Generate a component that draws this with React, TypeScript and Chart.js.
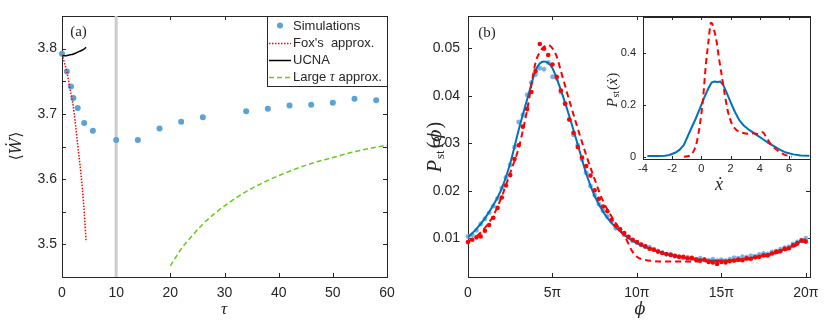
import React, { useEffect, useRef } from 'react';
import { Chart, registerables } from 'chart.js';
Chart.register(...registerables);

// ---------- Panel (a) data ----------
const SIM_TAU = [0, 0.9, 1.65, 2.1, 2.9, 4.1, 5.7, 10, 14, 18, 22, 26, 34, 38, 42, 46, 50, 54, 58];
const SIM_W = [3.792, 3.765, 3.742, 3.7245, 3.709, 3.686, 3.674, 3.66, 3.66, 3.6776, 3.6878, 3.695, 3.704, 3.708, 3.713, 3.714, 3.717, 3.723, 3.721];
const FOX_TAU = [0, 0.5, 1, 1.5, 2, 2.5, 3, 3.5, 4, 4.45];
const FOX_W = [3.791, 3.777, 3.76, 3.737, 3.716, 3.683, 3.645, 3.608, 3.561, 3.504];
const UCNA_TAU = [0, 1, 1.5, 2, 2.5, 3, 3.5, 4, 4.45];
const UCNA_W = [3.789, 3.7895, 3.7905, 3.7915, 3.793, 3.795, 3.7968, 3.799, 3.802];
const LARGE_TAU = [20, 22, 24, 26, 28, 30, 34, 38, 42, 46, 50, 54, 58, 60];
const LARGE_W = [3.467, 3.493, 3.513, 3.531, 3.546, 3.559, 3.581, 3.598, 3.612, 3.624, 3.633, 3.642, 3.649, 3.652];
const VLINE_TAU = 10;
const A_X_TICKS = [0, 10, 20, 30, 40, 50, 60];
const A_Y_TICKS = [3.45, 3.5, 3.55, 3.6, 3.65, 3.7, 3.75, 3.8, 3.85];
const A_X_RANGE = [0, 60];
const A_Y_RANGE = [3.45, 3.85];

// ---------- Panel (b) data (phi in units of pi) ----------
const B_CURVE_PHI = [0, 0.5, 1, 1.5, 2, 2.5, 3, 3.5, 4, 4.25, 4.5, 4.75, 5, 5.5, 6, 6.5, 7, 7.5, 8, 8.5, 9, 9.5, 10, 11, 12, 13, 14, 15, 16, 17, 18, 19, 20];
const B_CURVE_P = [0.0102, 0.012, 0.0142, 0.017, 0.0205, 0.0258, 0.0328, 0.0392, 0.0453, 0.0468, 0.0472, 0.0469, 0.0458, 0.0412, 0.0357, 0.0297, 0.0236, 0.0189, 0.0156, 0.0132, 0.0115, 0.0101, 0.009, 0.0075, 0.0064, 0.0058, 0.0054, 0.0053, 0.0055, 0.006, 0.0068, 0.008, 0.0099];
const B_DASH_PHI = [0, 0.5, 1, 1.5, 2, 2.5, 3, 3.5, 4, 4.25, 4.5, 4.75, 5, 5.25, 5.5, 6, 6.5, 7, 7.5, 8, 8.5, 9, 9.4, 9.7, 10, 10.4, 11, 12, 13, 14, 15, 16, 17, 18, 19, 20];
const B_DASH_P = [0.0093, 0.0104, 0.0122, 0.0148, 0.0188, 0.0238, 0.029, 0.037, 0.047, 0.0492, 0.0503, 0.0507, 0.05, 0.0483, 0.0452, 0.039, 0.0331, 0.0275, 0.0224, 0.0178, 0.0146, 0.0118, 0.0096, 0.0074, 0.0061, 0.0055, 0.0052, 0.0051, 0.0051, 0.0051, 0.0052, 0.0053, 0.0058, 0.0066, 0.0078, 0.0095];
const B_SAMPLE_PHI = [0, 0.25, 0.5, 0.75, 1, 1.25, 1.5, 1.75, 2, 2.25, 2.5, 2.75, 3, 3.25, 3.5, 3.75, 4, 4.25, 4.5, 4.75, 5, 5.25, 5.5, 5.75, 6, 6.25, 6.5, 6.75, 7, 7.25, 7.5, 7.75, 8, 8.25, 8.5, 8.75, 9, 9.25, 9.5, 9.75, 10, 10.25, 10.5, 10.75, 11, 11.25, 11.5, 11.75, 12, 12.25, 12.5, 12.75, 13, 13.25, 13.5, 13.75, 14, 14.25, 14.5, 14.75, 15, 15.25, 15.5, 15.75, 16, 16.25, 16.5, 16.75, 17, 17.25, 17.5, 17.75, 18, 18.25, 18.5, 18.75, 19, 19.25, 19.5, 19.75, 20];
const B_RED_DOTS = [0.0092, 0.0097, 0.0102, 0.0104, 0.0116, 0.0128, 0.0143, 0.0164, 0.0186, 0.0211, 0.0233, 0.0267, 0.0296, 0.0335, 0.0372, 0.0408, 0.0452, 0.0509, 0.0499, 0.0486, 0.0466, 0.044, 0.0411, 0.0383, 0.035, 0.0322, 0.0292, 0.027, 0.0252, 0.0232, 0.0201, 0.0183, 0.0167, 0.0157, 0.0139, 0.0127, 0.0119, 0.0111, 0.0103, 0.0097, 0.0092, 0.0087, 0.0083, 0.0078, 0.0076, 0.0072, 0.0069, 0.0067, 0.0065, 0.0063, 0.0061, 0.0061, 0.0058, 0.0059, 0.0055, 0.0053, 0.0055, 0.005, 0.0049, 0.0046, 0.005, 0.0049, 0.0052, 0.0053, 0.0055, 0.0054, 0.0058, 0.0057, 0.006, 0.0061, 0.0064, 0.0064, 0.0068, 0.0072, 0.0073, 0.0078, 0.0079, 0.0085, 0.009, 0.0096, 0.0093];
const B_BLUE_MARKS = [0.0104, 0.0107, 0.0117, 0.013, 0.0141, 0.0154, 0.0168, 0.0184, 0.0206, 0.0228, 0.0255, 0.0292, 0.0345, 0.036, 0.0402, 0.0428, 0.0445, 0.0458, 0.0456, 0.047, 0.044, 0.0437, 0.0408, 0.0384, 0.035, 0.0318, 0.0296, 0.0266, 0.0238, 0.021, 0.0191, 0.0172, 0.0158, 0.0146, 0.0136, 0.0121, 0.0119, 0.0107, 0.0102, 0.0095, 0.0091, 0.0086, 0.0082, 0.0081, 0.0077, 0.0073, 0.007, 0.0066, 0.0066, 0.0062, 0.0061, 0.0059, 0.006, 0.0057, 0.0056, 0.0058, 0.0055, 0.0054, 0.0056, 0.0053, 0.0055, 0.0053, 0.0056, 0.0059, 0.0058, 0.0061, 0.006, 0.0063, 0.0062, 0.0066, 0.0068, 0.0067, 0.0071, 0.0072, 0.0077, 0.008, 0.0082, 0.0088, 0.0092, 0.0095, 0.01];
const B_X_TICKS = [0, 5, 10, 15, 20];
const B_Y_TICKS = [0.01, 0.02, 0.03, 0.04, 0.05];
const B_X_RANGE = [0, 20.25];
const B_Y_RANGE = [0.00185, 0.0568];

// ---------- Inset data ----------
const IN_BLUE_X = [-3.7, -3, -2.5, -2.2, -1.8, -1.5, -1.2, -0.8, -0.4, -0.1, 0.2, 0.5, 0.7, 0.9, 1.1, 1.3, 1.5, 1.7, 2.0, 2.3, 2.6, 2.9, 3.3, 3.8, 4.2, 4.6, 5.0, 5.4, 5.8, 6.3, 6.8, 7.4];
const IN_BLUE_P = [0.003, 0.003, 0.004, 0.0065, 0.015, 0.026, 0.045, 0.096, 0.145, 0.186, 0.228, 0.265, 0.285, 0.289, 0.287, 0.289, 0.275, 0.25, 0.21, 0.172, 0.14, 0.12, 0.102, 0.083, 0.068, 0.052, 0.04, 0.026, 0.016, 0.009, 0.005, 0.004];
const IN_RED_X = [-1.2, -0.8, -0.5, -0.3, -0.1, 0.1, 0.3, 0.5, 0.65, 0.75, 0.9, 1.05, 1.2, 1.4, 1.6, 1.8, 2.1, 2.4, 2.8, 3.2, 3.6, 3.9, 4.2, 4.4, 4.7, 5.0, 5.3, 5.6, 5.9, 6.2];
const IN_RED_P = [0.0, 0.004, 0.025, 0.06, 0.125, 0.215, 0.35, 0.45, 0.515, 0.51, 0.48, 0.44, 0.38, 0.31, 0.24, 0.178, 0.125, 0.103, 0.092, 0.088, 0.09, 0.087, 0.094, 0.08, 0.052, 0.034, 0.02, 0.01, 0.004, 0.0];
const IN_X_TICKS = [-4, -2, 0, 2, 4, 6];
const IN_Y_TICKS = [0, 0.2, 0.4];
const IN_X_RANGE = [-4, 7.44];
const IN_Y_RANGE = [-0.0088, 0.537];

// ---------- styles ----------
const AXIS = '#262626';
const SANS = "'Liberation Sans', Arial, sans-serif";
const SERIF = "'Liberation Serif', 'DejaVu Serif', serif";
const DJV = "'DejaVu Serif', serif";
const SIM_BLUE = '#5aa2d8';
const RED = '#ff0000';
const GREEN = '#66cc1a';
const MAT_BLUE = '#0072bd';
const LIGHT_BLUE = '#74b4e4';

const pts = (xs: number[], ys: number[]) => xs.map((x, i) => ({ x, y: ys[i] }));

type Seg = { t: string; f: string; dy?: number; gap?: number };
type TextItem = { x: number; y: number; segs: Seg[]; rot?: number };

function drawSegs(ctx: CanvasRenderingContext2D, item: TextItem) {
  ctx.save();
  ctx.translate(item.x, item.y);
  if (item.rot) ctx.rotate(item.rot);
  ctx.textBaseline = 'middle';
  ctx.textAlign = 'left';
  const widths = item.segs.map((s) => {
    ctx.font = s.f;
    return ctx.measureText(s.t).width + (s.gap || 0);
  });
  const total = widths.reduce((a, b) => a + b, 0);
  let cx = -total / 2;
  item.segs.forEach((s, i) => {
    ctx.font = s.f;
    ctx.fillStyle = AXIS;
    ctx.fillText(s.t, cx, s.dy || 0);
    cx += widths[i];
  });
  ctx.restore();
}

function makeFrame(cfg: { fill?: boolean; tick: number; top: boolean; right: boolean; texts: TextItem[]; extra?: (c: any) => void }) {
  return {
    id: 'frame',
    beforeDraw(chart: any) {
      if (!cfg.fill) return;
      const a = chart.chartArea;
      const ctx = chart.ctx;
      ctx.save();
      ctx.fillStyle = '#ffffff';
      ctx.fillRect(a.left, a.top, a.right - a.left, a.bottom - a.top);
      ctx.restore();
    },
    beforeDatasetsDraw(chart: any) {
      const { ctx, chartArea: a } = chart;
      const xs = chart.scales.x;
      const ys = chart.scales.y;
      const L = cfg.tick;
      ctx.save();
      ctx.strokeStyle = AXIS;
      ctx.lineWidth = 1;
      ctx.strokeRect(Math.round(a.left) + 0.5, Math.round(a.top) + 0.5, Math.round(a.right - a.left), Math.round(a.bottom - a.top));
      ctx.beginPath();
      xs.ticks.forEach((t: any) => {
        const p = Math.round(xs.getPixelForValue(t.value)) + 0.5;
        ctx.moveTo(p, a.bottom);
        ctx.lineTo(p, a.bottom - L);
        if (cfg.top) {
          ctx.moveTo(p, a.top);
          ctx.lineTo(p, a.top + L);
        }
      });
      ys.ticks.forEach((t: any) => {
        const p = Math.round(ys.getPixelForValue(t.value)) + 0.5;
        ctx.moveTo(a.left, p);
        ctx.lineTo(a.left + L, p);
        if (cfg.right) {
          ctx.moveTo(a.right, p);
          ctx.lineTo(a.right - L, p);
        }
      });
      ctx.stroke();
      ctx.restore();
    },
    afterDraw(chart: any) {
      const ctx = chart.ctx;
      cfg.texts.forEach((t) => drawSegs(ctx, t));
      if (cfg.extra) cfg.extra(chart);
    },
  };
}

function axisCfg(range: number[], ticks: number[], size: number, padding: number, fixed: { w?: number; h?: number }, cb: (v: number) => string) {
  return {
    type: 'linear' as const,
    min: range[0],
    max: range[1],
    grid: { display: false, drawTicks: false },
    border: { display: false },
    ticks: {
      font: { family: SANS, size },
      color: AXIS,
      padding,
      maxRotation: 0,
      autoSkip: false,
      callback: (v: any) => cb(Number(v)),
    },
    afterBuildTicks: (s: any) => {
      s.ticks = ticks.map((v) => ({ value: v }));
    },
    afterFit: (s: any) => {
      if (fixed.w !== undefined) s.width = fixed.w;
      if (fixed.h !== undefined) s.height = fixed.h;
      s.paddingLeft = 0;
      s.paddingRight = 0;
      s.paddingTop = 0;
      s.paddingBottom = 0;
    },
  };
}

const baseOpts = {
  responsive: false,
  maintainAspectRatio: false,
  animation: false as const,
  devicePixelRatio: 1,
  events: [] as any[],
  plugins: { legend: { display: false }, tooltip: { enabled: false } },
};

function legendA(chart: any) {
  const ctx: CanvasRenderingContext2D = chart.ctx;
  const lx = 267, ly = 16, lw = 120, lh = 70;
  ctx.save();
  ctx.fillStyle = '#ffffff';
  ctx.fillRect(lx, ly, lw, lh);
  ctx.strokeStyle = AXIS;
  ctx.lineWidth = 1;
  ctx.strokeRect(lx + 0.5, ly + 0.5, lw, lh);
  const rows = [26, 43.5, 60.5, 77.5];
  const sx0 = 269, sx1 = 291, tx = 293;
  ctx.fillStyle = SIM_BLUE;
  ctx.beginPath();
  ctx.arc(280, rows[0] - 0.5, 3, 0, Math.PI * 2);
  ctx.fill();
  ctx.strokeStyle = RED;
  ctx.lineWidth = 1.5;
  ctx.setLineDash([1.5, 1.5]);
  ctx.beginPath();
  ctx.moveTo(sx0, rows[1]);
  ctx.lineTo(sx1, rows[1]);
  ctx.stroke();
  ctx.setLineDash([]);
  ctx.strokeStyle = '#000000';
  ctx.beginPath();
  ctx.moveTo(sx0, rows[2]);
  ctx.lineTo(sx1, rows[2]);
  ctx.stroke();
  ctx.strokeStyle = GREEN;
  ctx.setLineDash([5, 3]);
  ctx.beginPath();
  ctx.moveTo(sx0, rows[3]);
  ctx.lineTo(sx1, rows[3]);
  ctx.stroke();
  ctx.setLineDash([]);
  ctx.fillStyle = AXIS;
  ctx.textBaseline = 'middle';
  ctx.textAlign = 'left';
  const f = `13px ${SANS}`;
  ctx.font = f;
  ctx.fillText('Simulations', tx, rows[0]);
  ctx.fillText("Fox's  approx.", tx, rows[1]);
  ctx.fillText('UCNA', tx, rows[2]);
  let x = tx;
  ctx.fillText('Large ', x, rows[3]);
  x += ctx.measureText('Large ').width;
  ctx.font = `italic 14px ${SERIF}`;
  ctx.fillText('τ', x, rows[3]);
  x += ctx.measureText('τ').width;
  ctx.font = f;
  ctx.fillText(' approx.', x, rows[3]);
  ctx.restore();
}

export default function App() {
  const refA = useRef<HTMLCanvasElement>(null);
  const refB = useRef<HTMLCanvasElement>(null);
  const refC = useRef<HTMLCanvasElement>(null);

  useEffect(() => {
    const fmt1 = (v: number) => (Math.abs(v * 10 - Math.round(v * 10)) < 1e-6 ? v.toFixed(1) : '');
    const chartA = new Chart(refA.current as HTMLCanvasElement, {
      type: 'scatter',
      data: {
        datasets: [
          { label: "Fox's approx.", data: pts(FOX_TAU, FOX_W), showLine: true, borderColor: RED, borderWidth: 1.5, borderDash: [1.5, 1.5], pointRadius: 0, cubicInterpolationMode: 'monotone', order: 1 } as any,
          { label: 'UCNA', data: pts(UCNA_TAU, UCNA_W), showLine: true, borderColor: '#000000', borderWidth: 1.5, pointRadius: 0, cubicInterpolationMode: 'monotone', order: 2, clip: false },
          { label: 'Simulations', data: pts(SIM_TAU, SIM_W), showLine: false, pointRadius: 3, backgroundColor: SIM_BLUE, borderWidth: 0, order: 3, clip: false },
          { label: 'Large tau approx.', data: pts(LARGE_TAU, LARGE_W), showLine: true, borderColor: GREEN, borderWidth: 1.5, borderDash: [5, 3], pointRadius: 0, cubicInterpolationMode: 'monotone', order: 4 },
          { label: 'tau=10', data: [{ x: VLINE_TAU, y: A_Y_RANGE[0] }, { x: VLINE_TAU, y: A_Y_RANGE[1] }], showLine: true, borderColor: '#cccccc', borderWidth: 3, pointRadius: 0, order: 5 },
        ],
      },
      options: {
        ...baseOpts,
        layout: { padding: { left: 0, right: 33, top: 16, bottom: 0 } },
        scales: {
          x: axisCfg(A_X_RANGE, A_X_TICKS, 14, 8, { h: 45 }, (v) => String(v)),
          y: axisCfg(A_Y_RANGE, A_Y_TICKS, 14, 5, { w: 62 }, fmt1),
        },
      } as any,
      plugins: [
        makeFrame({
          tick: 4,
          top: true,
          right: true,
          texts: [
            { x: 17, y: 146, rot: -Math.PI / 2, segs: [{ t: '⟨', f: `16px ${DJV}` }, { t: 'Ẇ', f: `italic 16px ${DJV}` }, { t: '⟩', f: `16px ${DJV}` }] },
            { x: 224, y: 310, segs: [{ t: 'τ', f: `italic 17px ${SERIF}` }] },
            { x: 78.5, y: 32, segs: [{ t: '(a)', f: `15px ${SERIF}` }] },
          ],
          extra: legendA,
        }) as any,
      ],
    });

    const chartB = new Chart(refB.current as HTMLCanvasElement, {
      type: 'scatter',
      data: {
        datasets: [
          { label: 'dashed', data: pts(B_DASH_PHI, B_DASH_P), showLine: true, borderColor: RED, borderWidth: 2, borderDash: [6, 4], pointRadius: 0, cubicInterpolationMode: 'monotone', order: 1 } as any,
          { label: 'red dots', data: pts(B_SAMPLE_PHI, B_RED_DOTS), showLine: false, pointRadius: 2.3, backgroundColor: RED, borderWidth: 0, order: 2, clip: false },
          { label: 'blue curve', data: pts(B_CURVE_PHI, B_CURVE_P), showLine: true, borderColor: MAT_BLUE, borderWidth: 2, pointRadius: 0, cubicInterpolationMode: 'monotone', order: 3 },
          { label: 'blue marks', data: pts(B_SAMPLE_PHI, B_BLUE_MARKS), showLine: false, pointStyle: 'star', pointRadius: 2.5, borderColor: LIGHT_BLUE, borderWidth: 1.3, order: 4, clip: false },
        ],
      },
      options: {
        ...baseOpts,
        layout: { padding: { left: 0, right: 20, top: 16, bottom: 0 } },
        scales: {
          x: axisCfg(B_X_RANGE, B_X_TICKS, 14, 8, { h: 45 }, (v) => (v === 0 ? '0' : `${v}π`)),
          y: axisCfg(B_Y_RANGE, B_Y_TICKS, 14, 8, { w: 48 }, (v) => v.toFixed(2)),
        },
      } as any,
      plugins: [
        makeFrame({
          tick: 4,
          top: true,
          right: true,
          texts: [
            { x: 16, y: 147, rot: -Math.PI / 2, segs: [{ t: 'P', f: `italic 20px ${SERIF}`, gap: 1 }, { t: 'st', f: `13px ${SERIF}`, dy: 5, gap: 2 }, { t: '(', f: `20px ${SERIF}` }, { t: 'ϕ', f: `italic 18px ${DJV}`, gap: 1 }, { t: ')', f: `20px ${SERIF}` }] },
            { x: 220, y: 310, segs: [{ t: 'ϕ', f: `italic 16px ${DJV}` }] },
            { x: 67, y: 33, segs: [{ t: '(b)', f: `15px ${SERIF}` }] },
          ],
        }) as any,
      ],
    });

    const chartC = new Chart(refC.current as HTMLCanvasElement, {
      type: 'scatter',
      data: {
        datasets: [
          { label: 'inset dashed', data: pts(IN_RED_X, IN_RED_P), showLine: true, borderColor: RED, borderWidth: 2, borderDash: [6, 4], pointRadius: 0, cubicInterpolationMode: 'monotone', order: 1 } as any,
          { label: 'inset blue', data: pts(IN_BLUE_X, IN_BLUE_P), showLine: true, borderColor: MAT_BLUE, borderWidth: 2, pointRadius: 0, order: 2 },
        ],
      },
      options: {
        ...baseOpts,
        layout: { padding: { left: 0, right: 20, top: 17, bottom: 0 } },
        scales: {
          x: axisCfg(IN_X_RANGE, IN_X_TICKS, 11, 3, { h: 41 }, (v) => String(v)),
          y: axisCfg(IN_Y_RANGE, IN_Y_TICKS, 11, 7, { w: 83 }, (v) => (v === 0 ? '0' : v.toFixed(1))),
        },
      } as any,
      plugins: [
        makeFrame({
          fill: true,
          tick: 3,
          top: true,
          right: false,
          texts: [
            { x: 53, y: 90, rot: -Math.PI / 2, segs: [{ t: 'P', f: `italic 15px ${SERIF}`, gap: 0.5 }, { t: 'st', f: `10px ${SERIF}`, dy: 3, gap: 1 }, { t: '(', f: `15px ${SERIF}` }, { t: 'ẋ', f: `italic 15px ${SERIF}`, gap: 0.5 }, { t: ')', f: `15px ${SERIF}` }] },
            { x: 159, y: 185, segs: [{ t: 'ẋ', f: `italic 18px ${SERIF}` }] },
          ],
        }) as any,
      ],
    });

    return () => {
      chartA.destroy();
      chartB.destroy();
      chartC.destroy();
    };
  }, []);

  return (
    <div style={{ position: 'absolute', left: 0, top: 0, width: 830, height: 322, background: '#ffffff', overflow: 'hidden' }}>
      <canvas ref={refA} width={420} height={322} style={{ position: 'absolute', left: 0, top: 0, width: 420, height: 322 }} />
      <canvas ref={refB} width={410} height={322} style={{ position: 'absolute', left: 420, top: 0, width: 410, height: 322 }} />
      <canvas ref={refC} width={270} height={200} style={{ position: 'absolute', left: 560, top: 0, width: 270, height: 200 }} />
    </div>
  );
}
